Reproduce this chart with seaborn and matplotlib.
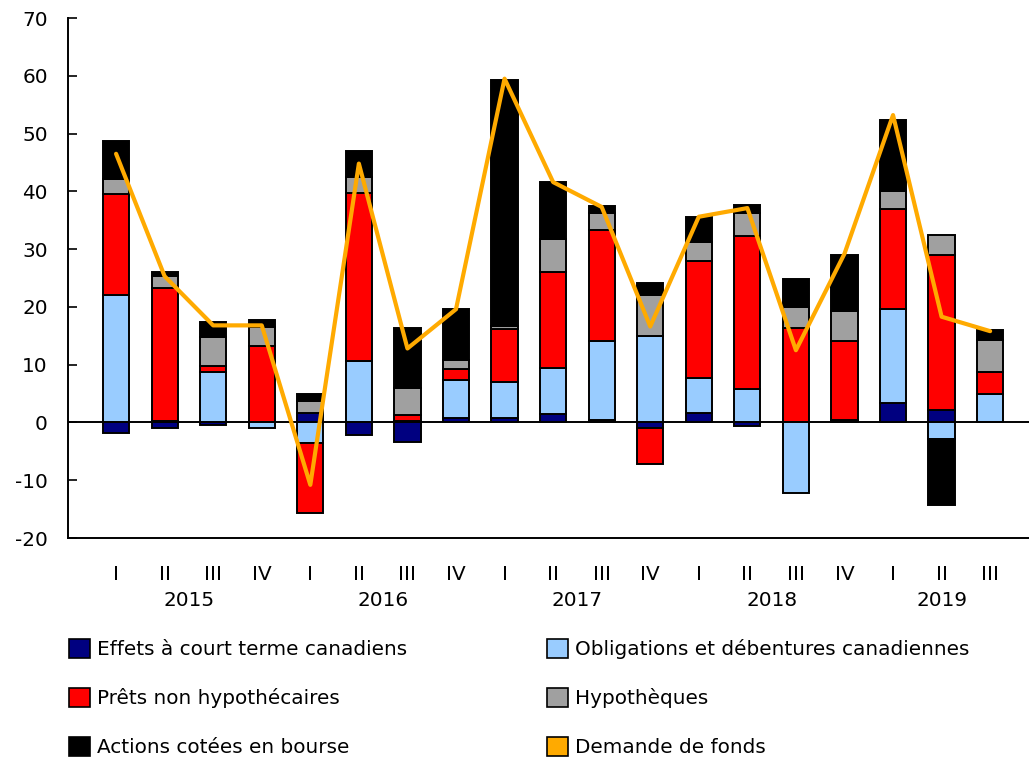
import numpy as np
import pandas as pd
import matplotlib
matplotlib.use('Agg')
import matplotlib.pyplot as plt
import matplotlib.patches as mpatches
import seaborn as sns

quarters = ['I', 'II', 'III', 'IV', 'I', 'II', 'III', 'IV', 'I', 'II', 'III', 'IV',
            'I', 'II', 'III', 'IV', 'I', 'II', 'III']
years = ['2015', '2016', '2017', '2018', '2019']
year_centres = [1.5, 5.5, 9.5, 13.5, 17.0]

court_terme = [-1.9, -0.9, -0.4, 0.1, 1.6, -2.2, -3.3, 0.7, 0.7, 1.4, 0.4, -1.0,
               1.6, -0.7, 0.0, 0.2, 3.3, 2.1, 0.0]
obligations = [22.0, 0.3, 8.8, -1.0, -3.5, 10.7, 0.3, 6.6, 6.3, 8.1, 13.7, 15.0,
               6.1, 5.8, -12.2, 0.2, 16.4, -2.8, 5.0]
prets = [17.5, 22.9, 0.9, 13.1, -12.2, 29.0, 1.0, 1.9, 9.1, 16.5, 19.2, -6.2,
         20.2, 26.4, 16.4, 13.7, 17.2, 26.8, 3.8]
hypotheques = [2.6, 2.1, 5.1, 3.4, 2.1, 2.8, 4.6, 1.6, 0.6, 5.7, 3.0, 7.1,
               3.3, 4.1, 3.6, 5.2, 3.1, 3.5, 5.4]
actions = [6.6, 0.8, 2.5, 1.2, 1.3, 4.5, 10.5, 8.9, 42.5, 9.9, 1.2, 2.1,
           4.4, 1.3, 4.9, 9.6, 12.4, -11.5, 1.8]
demande = [46.5, 25.3, 16.8, 16.8, -10.8, 44.8, 12.8, 19.6, 59.5, 41.6, 37.3, 16.6,
           35.6, 37.1, 12.5, 29.2, 53.2, 18.3, 15.8]

series = [
    ('Effets à court terme canadiens', court_terme, '#000080'),
    ('Obligations et débentures canadiennes', obligations, '#99ccff'),
    ('Prêts non hypothécaires', prets, '#ff0000'),
    ('Hypothèques', hypotheques, '#a0a0a0'),
    ('Actions cotées en bourse', actions, '#000000'),
]
line_label = 'Demande de fonds'
line_color = '#ffaa00'

sns.set_style('white')
plt.rcParams['font.family'] = ['DejaVu Sans']
plt.rcParams['axes.unicode_minus'] = False
plt.rcParams['text.color'] = 'black'

fs = 14.4

fig = plt.figure(figsize=(10.29, 7.58), dpi=100)
ax = fig.add_axes([68 / 1029, 220 / 758, 961 / 1029, 520 / 758])

x = np.arange(len(quarters))
pos_base = np.zeros(len(x))
neg_base = np.zeros(len(x))
for name, vals, col in series:
    v = np.array(vals)
    bottom = np.where(v >= 0, pos_base, neg_base)
    ax.bar(x, v, width=0.54, bottom=bottom, color=col, edgecolor='black',
           linewidth=1.4, zorder=2)
    pos_base += np.where(v >= 0, v, 0)
    neg_base += np.where(v < 0, v, 0)

ax.axhline(0, color='black', linewidth=1.4, zorder=3)

df_line = pd.DataFrame({'x': x, 'demande': demande})
sns.lineplot(data=df_line, x='x', y='demande', color=line_color, linewidth=3,
             ax=ax, zorder=4)

ax.set_xlim(-0.99, 18.8)
ax.set_ylim(-20, 70)
ax.set_yticks(range(-20, 71, 10))
ax.set_xticks(x)
ax.set_xticklabels(quarters)
ax.set_xlabel('')
ax.set_ylabel('')
ax.tick_params(axis='y', direction='in', length=6.5, width=1.2, labelsize=fs, pad=14.5,
               left=True, colors='black')
ax.tick_params(axis='x', length=0, labelsize=fs, pad=19.5, colors='black')
for s in ['top', 'right']:
    ax.spines[s].set_visible(False)
for s in ['left', 'bottom']:
    ax.spines[s].set_linewidth(1.4)
    ax.spines[s].set_color('black')

for yr, xc in zip(years, year_centres):
    ax.text(xc, -0.121, yr, transform=ax.get_xaxis_transform(), ha='center',
            va='center', fontsize=fs, color='black')

handles = {name: mpatches.Patch(facecolor=col, edgecolor='black', linewidth=1.2)
           for name, _, col in series}
handles[line_label] = mpatches.Patch(facecolor=line_color, edgecolor='black', linewidth=1.2)
order = ['Effets à court terme canadiens', 'Prêts non hypothécaires',
         'Actions cotées en bourse', 'Obligations et débentures canadiennes',
         'Hypothèques', 'Demande de fonds']
fig.legend([handles[k] for k in order], order, ncol=2, loc='upper left',
           bbox_to_anchor=(63 / 1029, 1 - 633 / 758), frameon=False, fontsize=fs,
           handlelength=1.05, handleheight=1.05, handletextpad=0.35,
           labelspacing=1.45, columnspacing=7.0, borderaxespad=0, borderpad=0.3,
           labelcolor='black')

fig.savefig('out.png', dpi=100)
